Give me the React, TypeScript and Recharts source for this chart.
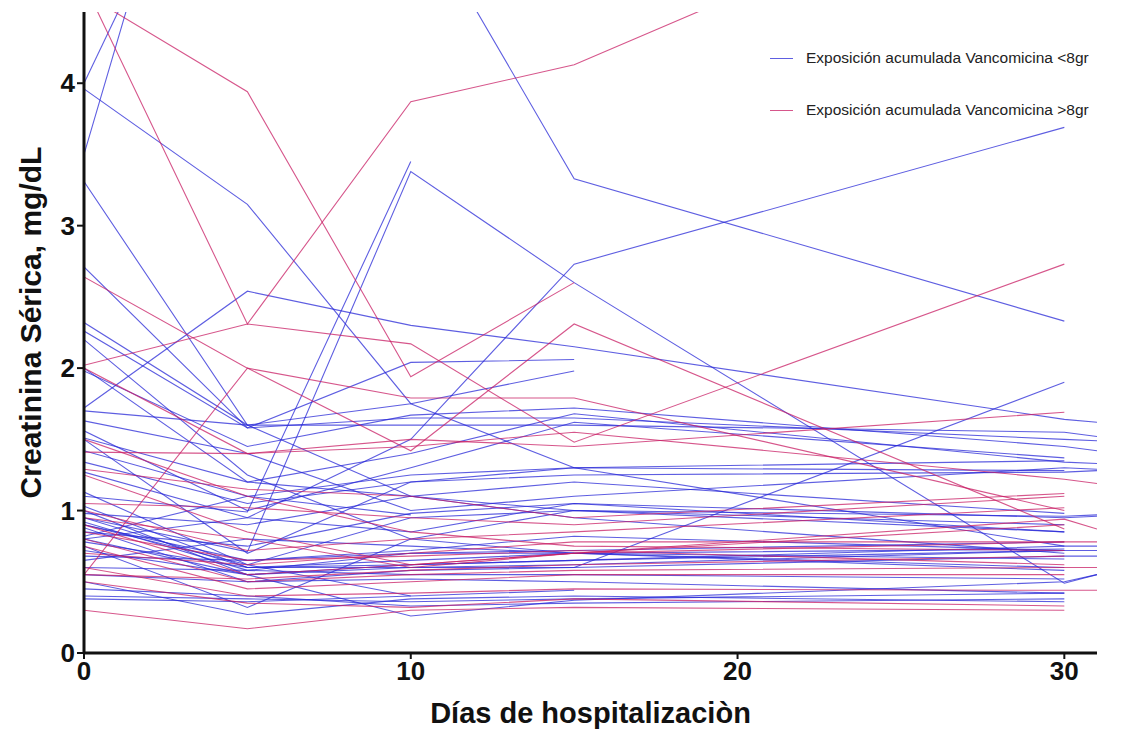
import React from "react";
import { LineChart, Line, XAxis, YAxis } from "recharts";

// sampling days (31 = right edge, some lines continue past day 30)
const DAYS = [0, 5, 10, 15, 30, 31];

// serum creatinine per patient, cumulative vancomycin < 8 g
const LOW_EXPOSURE: (number | null)[][] = [
  [3.96, 3.15, 1.75, 1.3, 0.75, null],
  [3.5, 7.4, 5.3, 3.33, 2.33, null],
  [4.0, 6.4, null, null, null, null],
  [0.95, 0.71, 3.38, 2.6, 0.49, 0.55],
  [1.1, 0.99, 3.45, null, null, null],
  [0.8, 0.95, 1.5, 2.73, 3.69, null],
  [1.72, 2.54, 2.3, 2.15, 1.64, 1.62],
  [3.31, 1.6, 1.1, 0.95, 0.7, null],
  [2.71, 1.58, 2.04, 2.06, null, null],
  [2.32, 1.6, 1.75, 1.98, null, null],
  [2.26, 1.58, 1.65, 1.65, 1.5, 1.49],
  [2.2, 1.25, 0.8, 0.7, 0.6, null],
  [2.0, 1.2, 1.1, 1.0, 0.9, null],
  [1.98, 1.45, 1.67, 1.72, 1.45, 1.42],
  [1.63, 1.4, 1.0, 1.1, 1.3, 1.29],
  [1.56, 1.0, 1.3, 1.62, 1.37, null],
  [1.51, 1.2, 1.4, 1.68, 1.34, 1.33],
  [1.34, 1.05, 1.2, 1.25, 1.27, 1.28],
  [1.27, 0.95, 0.85, 1.05, 0.85, null],
  [1.13, 0.62, 0.95, 1.0, 0.96, 0.97],
  [1.03, 0.6, 0.65, 0.7, 0.73, null],
  [1.0, 0.55, 0.6, 0.6, 1.9, null],
  [0.95, 0.6, 0.62, 0.65, 0.75, 0.75],
  [0.92, 0.58, 0.7, 0.72, 0.78, null],
  [0.9, 0.65, 0.72, 0.82, 0.72, null],
  [0.88, 0.5, 0.58, 0.6, 0.68, 0.68],
  [0.85, 0.75, 0.98, 1.05, 0.95, 0.96],
  [0.82, 1.1, 1.25, 1.3, 1.28, null],
  [0.8, 0.55, 0.26, 0.37, 0.5, 0.55],
  [0.78, 0.6, 0.6, 0.62, 0.72, null],
  [0.75, 0.32, 0.8, 1.0, 0.85, null],
  [0.72, 0.55, 0.62, 0.65, 0.72, 0.72],
  [0.68, 0.65, 0.7, 0.7, 0.66, null],
  [0.65, 0.8, 0.75, 0.7, 0.58, null],
  [0.6, 0.58, 0.55, 0.55, 0.52, null],
  [0.55, 0.5, 0.52, 0.5, 0.42, null],
  [0.5, 0.27, 0.38, 0.4, 0.36, null],
  [0.45, 0.4, 0.33, 0.35, 0.38, null],
  [0.4, 0.38, 0.36, 0.38, 0.42, null],
  [0.38, 0.36, 0.4, 0.44, null, null],
  [1.42, 1.1, 0.97, null, null, null],
  [0.9, 0.62, 0.4, null, null, null],
  [1.5, 0.7, 1.2, 1.3, 1.35, null],
  [1.7, 1.6, 1.6, 1.6, 1.55, 1.52],
  [0.98, 0.9, 1.1, 1.2, 0.98, null],
];

// cumulative vancomycin > 8 g
const HIGH_EXPOSURE: (number | null)[][] = [
  [4.63, 3.94, 1.94, 2.6, null, null],
  [2.02, 2.31, 2.17, 1.48, 2.73, null],
  [4.7, 2.31, 3.87, 4.13, 5.6, null],
  [2.64, 2.0, 1.79, 1.79, 1.0, null],
  [0.55, 2.0, 1.42, 2.31, 0.87, null],
  [2.0, 1.4, 1.5, 1.45, 1.69, null],
  [1.41, 1.4, 1.45, 1.55, 1.22, 1.19],
  [1.29, 1.15, 1.1, 0.95, 1.12, null],
  [1.05, 1.02, 0.95, 0.9, 1.1, null],
  [1.0, 0.72, 0.8, 0.85, 1.02, null],
  [0.95, 0.8, 0.6, 0.7, 0.94, 0.87],
  [0.9, 0.55, 0.62, 0.7, 0.78, null],
  [0.85, 0.65, 0.68, 0.72, 0.62, null],
  [0.8, 0.5, 0.55, 0.58, 0.6, 0.6],
  [0.75, 0.45, 0.5, 0.55, 0.55, null],
  [0.7, 0.62, 0.7, 0.78, 0.78, 0.78],
  [0.6, 0.4, 0.42, 0.45, 0.44, 0.44],
  [0.55, 0.52, 0.58, 0.62, 0.68, null],
  [0.3, 0.17, 0.3, 0.32, 0.3, null],
  [0.5, 0.35, 0.32, 0.38, 0.33, null],
  [1.5, 1.1, 0.85, 0.75, 0.72, null],
  [1.25, 0.85, 0.62, 0.7, 0.9, null],
];

const X_TICKS = [0, 10, 20, 30];
const Y_TICKS = [0, 1, 2, 3, 4];

const LEGEND_LABELS = [
  "Exposición acumulada Vancomicina <8gr",
  "Exposición acumulada Vancomicina >8gr",
];

const BLUE = "rgba(40, 40, 215, 0.75)";
const PINK = "rgba(200, 30, 100, 0.75)";

const toPoints = (vals: (number | null)[]) =>
  DAYS.map((d, i) => ({ day: d, v: vals[i] })).filter((p) => p.v != null);

const tickFont = {
  fontFamily: "'Liberation Sans Narrow', 'Liberation Sans', Arial, sans-serif",
  fontWeight: 700,
  fontSize: 26,
  fill: "#111",
};

const titleFont = {
  fontFamily: "'Liberation Sans', Arial, sans-serif",
  fontWeight: 700,
  fill: "#111",
};

// legend drawn as an overlay so it does not take space from the plot
const ChartLegend = () => (
  <div
    style={{
      position: "absolute",
      top: 37,
      left: 762,
      fontFamily: "'Liberation Sans', Arial, sans-serif",
      fontSize: 15.5,
      color: "#222",
    }}
  >
    {LEGEND_LABELS.map((label, i) => (
      <div key={label} style={{ display: "flex", alignItems: "center", height: 26, marginBottom: 26 }}>
        <span
          style={{
            display: "inline-block",
            width: 23,
            height: 0,
            borderTop: `1px solid ${i === 0 ? BLUE : PINK}`,
            marginRight: 13,
          }}
        />
        {label}
      </div>
    ))}
  </div>
);

export default function App() {
  return (
    <div style={{ position: "relative", width: 1110, height: 722, background: "#fff" }}>
      <LineChart width={1110} height={722} margin={{ top: 4, right: 21, left: 0, bottom: 0 }}>
        <XAxis
          type="number"
          dataKey="day"
          domain={[0, 31]}
          allowDataOverflow
          ticks={X_TICKS}
          axisLine={{ stroke: "#111", strokeWidth: 3 }}
          tickLine={{ stroke: "#111", strokeWidth: 2 }}
          tickSize={6}
          tickMargin={3}
          tick={tickFont}
          height={77}
          label={{
            value: "Días de hospitalizaciòn",
            position: "insideBottom",
            offset: 7,
            style: { ...titleFont, fontSize: 29 },
          }}
        />
        <YAxis
          type="number"
          domain={[0, 4.5]}
          allowDataOverflow
          ticks={Y_TICKS}
          width={76}
          axisLine={{ stroke: "#111", strokeWidth: 3 }}
          tickLine={{ stroke: "#111", strokeWidth: 2 }}
          tickSize={7}
          tickMargin={2}
          tick={tickFont}
          label={{
            value: "Creatinina Sérica, mg/dL",
            angle: -90,
            position: "center",
            dx: -16,
            dy: -10,
            style: { ...titleFont, fontSize: 30, textAnchor: "middle" },
          }}
        />
        {LOW_EXPOSURE.map((vals, i) => (
          <Line
            key={`low-${i}`}
            data={toPoints(vals)}
            dataKey="v"
            stroke={BLUE}
            strokeWidth={1.1}
            dot={false}
            activeDot={false}
            isAnimationActive={false}
            legendType="none"
          />
        ))}
        {HIGH_EXPOSURE.map((vals, i) => (
          <Line
            key={`high-${i}`}
            data={toPoints(vals)}
            dataKey="v"
            stroke={PINK}
            strokeWidth={1.1}
            dot={false}
            activeDot={false}
            isAnimationActive={false}
            legendType="none"
          />
        ))}
      </LineChart>
      <ChartLegend />
    </div>
  );
}
